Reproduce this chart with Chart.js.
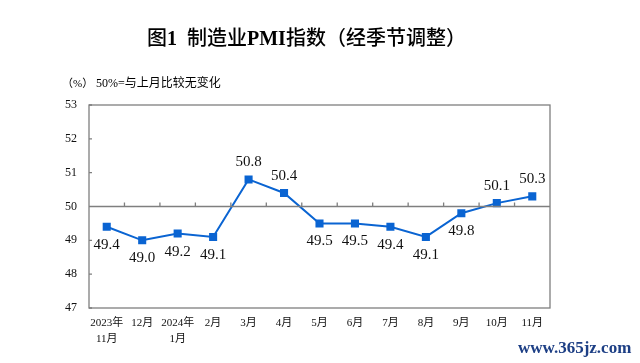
<!DOCTYPE html>
<html>
<head>
<meta charset="utf-8">
<script src="https://cdn.jsdelivr.net/npm/chart.js@4"></script>
<style>
    body { margin: 0; background: #fff; }
    #wrap { position: relative; width: 640px; height: 363px; }
    #pmiChart { position: absolute; left: 0; top: 0; }
    .txt { position: absolute; white-space: pre; color: #000; }
    #title { left: 147px; top: 25px; font: 500 20px "Liberation Serif", "Noto Sans CJK SC"; line-height: 26px; }
    #title b { font-weight: bold; }
    #unit { left: 62px; top: 75px; font: 11px "Liberation Serif", "Noto Sans CJK SC"; line-height: 16px; }
    #note { left: 96px; top: 75px; font: 12px "Liberation Serif", "Noto Sans CJK SC"; line-height: 16px; }
    #mark { left: 518px; top: 337px; font: bold 17px "Liberation Serif"; line-height: 22px; color: #1d3f85; }
</style>
</head>
<body>
<div id="wrap">
    <canvas id="pmiChart" width="640" height="363"></canvas>
    <div class="txt" id="title">图<b>1</b>  制造业<b>PMI</b>指数（经季节调整）</div>
    <div class="txt" id="unit">（%）</div>
    <div class="txt" id="note">50%=与上月比较无变化</div>
    <div class="txt" id="mark">www.365jz.com</div>
</div>
<script>
const months = [['2023年', '11月'], '12月', ['2024年', '1月'], '2月', '3月', '4月', '5月', '6月', '7月', '8月', '9月', '10月', '11月'];
const pmiValues = [49.4, 49.0, 49.2, 49.1, 50.8, 50.4, 49.5, 49.5, 49.4, 49.1, 49.8, 50.1, 50.3];
const yTicks = [47, 48, 49, 50, 51, 52, 53];
const baseLine = 50;

document.addEventListener("DOMContentLoaded", function() {
    const ctx = document.getElementById('pmiChart').getContext('2d');
    const frameColor = '#7f7f7f';

    // frame, 50% line, small ticks and value labels
    const decor = {
        id: 'decor',
        afterDatasetsDraw(chart) {
            const area = chart.chartArea;
            const x = chart.scales.x;
            const y = chart.scales.y;
            const c = chart.ctx;
            c.save();
            c.strokeStyle = frameColor;
            c.lineWidth = 1.3;
            c.strokeRect(area.left, area.top, area.right - area.left, area.bottom - area.top);

            const y50 = y.getPixelForValue(baseLine);
            c.beginPath();
            c.moveTo(area.left, y50);
            c.lineTo(area.right, y50);
            for (let i = 0; i < pmiValues.length - 1; i++) {
                const bx = (x.getPixelForValue(i) + x.getPixelForValue(i + 1)) / 2;
                c.moveTo(bx, y50);
                c.lineTo(bx, y50 - 4);
            }
            yTicks.forEach(function(v) {
                const ty = y.getPixelForValue(v);
                c.moveTo(area.left, ty);
                c.lineTo(area.left + 3, ty);
            });
            c.stroke();

            c.fillStyle = '#111';
            c.font = '15px "Liberation Serif"';
            c.textAlign = 'center';
            c.textBaseline = 'middle';
            const pts = chart.getDatasetMeta(0).data;
            pts.forEach(function(p, i) {
                const above = pmiValues[i] > baseLine;
                c.fillText(pmiValues[i].toFixed(1), p.x, p.y + (above ? -17 : 18));
            });
            c.restore();
        }
    };

    new Chart(ctx, {
        type: 'line',
        data: {
            labels: months,
            datasets: [{
                data: pmiValues,
                borderColor: '#0a64d2',
                backgroundColor: '#0a64d2',
                borderWidth: 2,
                pointStyle: 'rect',
                pointRadius: 4.3,
                pointHoverRadius: 4.3,
                fill: false,
                tension: 0
            }]
        },
        options: {
            responsive: false,
            animation: false,
            layout: { padding: { left: 0, top: 105, right: 90, bottom: 0 } },
            plugins: {
                legend: { display: false },
                tooltip: { enabled: false }
            },
            scales: {
                x: {
                    offset: true,
                    grid: { display: false, drawTicks: false },
                    border: { display: false },
                    ticks: {
                        color: '#111',
                        padding: 7,
                        maxRotation: 0,
                        autoSkip: false,
                        font: { family: '"Liberation Serif", "Noto Sans CJK SC"', size: 11, lineHeight: 1.45 }
                    },
                    afterFit(scale) { scale.height = 55; }
                },
                y: {
                    min: 47,
                    max: 53,
                    grid: { display: false, drawTicks: false },
                    border: { display: false },
                    ticks: {
                        stepSize: 1,
                        color: '#111',
                        padding: 12,
                        font: { family: '"Liberation Serif"', size: 12 }
                    },
                    afterFit(scale) { scale.width = 89; }
                }
            }
        },
        plugins: [decor]
    });
});
</script>
</body>
</html>
